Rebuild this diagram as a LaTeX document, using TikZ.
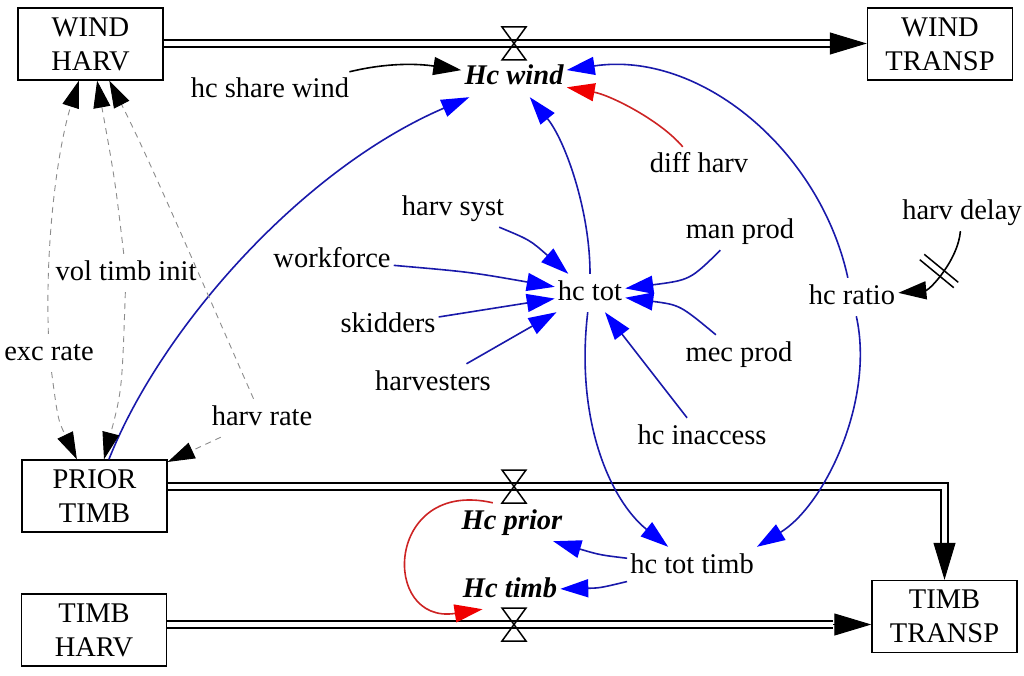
\documentclass[tikz,border=0pt]{standalone}
\usepackage{fontspec}
\setmainfont{Liberation Serif}
\usetikzlibrary{arrows.meta}
\newcommand{\sdfont}{\fontsize{28.5}{34}\selectfont}
\definecolor{linkblue}{RGB}{25,25,170}
\definecolor{linkred}{RGB}{205,35,35}
\definecolor{headblue}{RGB}{0,0,255}
\definecolor{headred}{RGB}{240,0,0}
\definecolor{dashgray}{RGB}{140,140,140}
\begin{document}
\begin{tikzpicture}[x=1pt,y=-1pt,
  lbl/.style={font=\sdfont, inner xsep=3pt, inner ysep=6pt, text height=20pt, text depth=6pt},
  bolbl/.style={lbl, font=\sdfont\bfseries\itshape},
  stock/.style={draw, line width=1.4pt, minimum width=145pt, minimum height=72pt, align=center, font=\sdfont, inner sep=0pt},
  bl/.style={draw=linkblue, line width=1.6pt, -{Triangle[length=28pt,width=18pt,color=headblue]}},
  rd/.style={draw=linkred, line width=1.6pt, -{Triangle[length=28pt,width=18pt,color=headred]}},
  bk/.style={draw=black, line width=1.6pt, -{Triangle[length=28pt,width=18pt]}},
  dsh/.style={draw=dashgray, line width=0.9pt, dash pattern=on 6pt off 5pt, -{Triangle[length=27pt,width=17pt,color=black]}},
  flowline/.style={double, double distance=5pt, line width=2pt, line join=miter},
  flowhead/.style={line width=1pt, -{Triangle[length=37pt,width=22pt]}},
  valvepic/.pic={\draw[line width=1.5pt] (-12,-16.5) -- (12,-16.5) -- (-12,16.5) -- (12,16.5) -- cycle;}
]
\useasboundingbox (0,0) rectangle (1024,676);

% stocks
\node[stock] (wh) at (90.5,44) {WIND\\HARV};
\node[stock] (wt) at (940,44) {WIND\\TRANSP};
\node[stock] (pt) at (94.5,496) {PRIOR\\TIMB};
\node[stock] (th) at (94,630) {TIMB\\HARV};
\node[stock] (tt) at (944.5,616.5) {TIMB\\TRANSP};

% flow reference points
\coordinate (v1) at (514,43.5);
\coordinate (v2) at (514,486.5);
\coordinate (v3) at (514,624.5);
\coordinate (fb1) at (831,43.5);
\coordinate (fb2) at (944.5,543);
\coordinate (fb3) at (833,624.5);

% flows
\draw[flowline] (wh.east |- v1) -- (fb1);
\draw[flowhead] (fb1) -- (wt.west |- v1);
\draw[flowline] (pt.east |- v2) -- (tt.north |- v2) -- (fb2);
\draw[flowhead] (fb2) -- (tt.north);
\draw[flowline] (th.east |- v3) -- (fb3);
\draw[flowhead] (fb3) -- (tt.west |- v3);
\pic at (v1) {valvepic};
\pic at (v2) {valvepic};
\pic at (v3) {valvepic};

% variables
\node[bolbl] (hcwind) at (514,78) {Hc wind};
\node[lbl] (hcshare) at (270,91) {hc share wind};
\node[lbl] (diffharv) at (699,166) {diff harv};
\node[lbl] (harvsyst) at (453,208) {harv syst};
\node[lbl] (workforce) at (332,260) {workforce};
\node[lbl] (skidders) at (388,325) {skidders};
\node[lbl] (harvesters) at (433,383) {harvesters};
\node[lbl] (hctot) at (590,293) {hc tot};
\node[lbl] (manprod) at (740,231) {man prod};
\node[lbl] (mecprod) at (739,354) {mec prod};
\node[lbl] (hcinacc) at (702,437) {hc inaccess};
\node[lbl] (harvdelay) at (962,212) {harv delay};
\node[lbl] (hcratio) at (852,297) {hc ratio};
\node[lbl] (volinit) at (126,273) {vol timb init};
\node[lbl] (excrate) at (49,353) {exc rate};
\node[lbl] (harvrate) at (262,418) {harv rate};
\node[bolbl] (hcprior) at (512,522) {Hc prior};
\node[bolbl] (hctimb) at (510,590) {Hc timb};
\node[lbl] (hctottimb) at (692,566) {hc tot timb};

% links into Hc wind
\draw[bk] (hcshare) .. controls (390,62) and (420,64) .. (hcwind);
\draw[rd] (diffharv) .. controls (660,120) and (610,95) .. (hcwind);
\draw[bl] (hcratio) .. controls (820,150) and (700,50) .. (hcwind);
\draw[bl] (hctot) .. controls (590,210) and (565,140) .. (hcwind);
\draw[bl] (pt) .. controls (160,330) and (300,170) .. (hcwind);

% links into hc tot
\draw[bl] (harvsyst) .. controls (530,240) .. (hctot);
\draw[bl] (workforce) .. controls (470,272) .. (hctot);
\draw[bl] (skidders) -- (hctot);
\draw[bl] (harvesters) -- (hctot);
\draw[bl] (manprod) .. controls (690,280) .. (hctot);
\draw[bl] (mecprod) .. controls (680,305) .. (hctot);
\draw[bl] (hcinacc) -- (hctot);

% hc tot timb
\draw[bl] (hctot) .. controls (575,420) and (610,500) .. (hctottimb);
\draw[bl] (hcratio) .. controls (875,400) and (825,505) .. (hctottimb.north east);
\draw[bl] (hctottimb) .. controls (600,555) .. (hcprior.-25);
\draw[bl] (hctottimb) .. controls (600,588) .. (hctimb);
\draw[rd] (hcprior.135) .. controls (385,478) and (380,625) .. (hctimb.215);

% delay
\draw[bk] (harvdelay) .. controls (958,260) and (930,290) .. (hcratio);
\coordinate (dm) at (939,271);
\draw[line width=1.5pt] ([shift={(-19.24,-11.31)}]dm) -- ([shift={(14.76,16.69)}]dm);
\draw[line width=1.5pt] ([shift={(-14.76,-16.69)}]dm) -- ([shift={(19.24,11.31)}]dm);

% dashed initial links
\draw[dsh] (excrate) .. controls (45,230) and (60,140) .. (wh);
\draw[dsh] (excrate) .. controls (58,420) .. (pt);
\draw[dsh] (volinit) .. controls (115,180) .. (wh);
\draw[dsh] (volinit) .. controls (122,390) .. (pt);
\draw[dsh] (harvrate) .. controls (210,300) and (150,160) .. (wh);
\draw[dsh] (harvrate) -- (pt);
\end{tikzpicture}
\end{document}
